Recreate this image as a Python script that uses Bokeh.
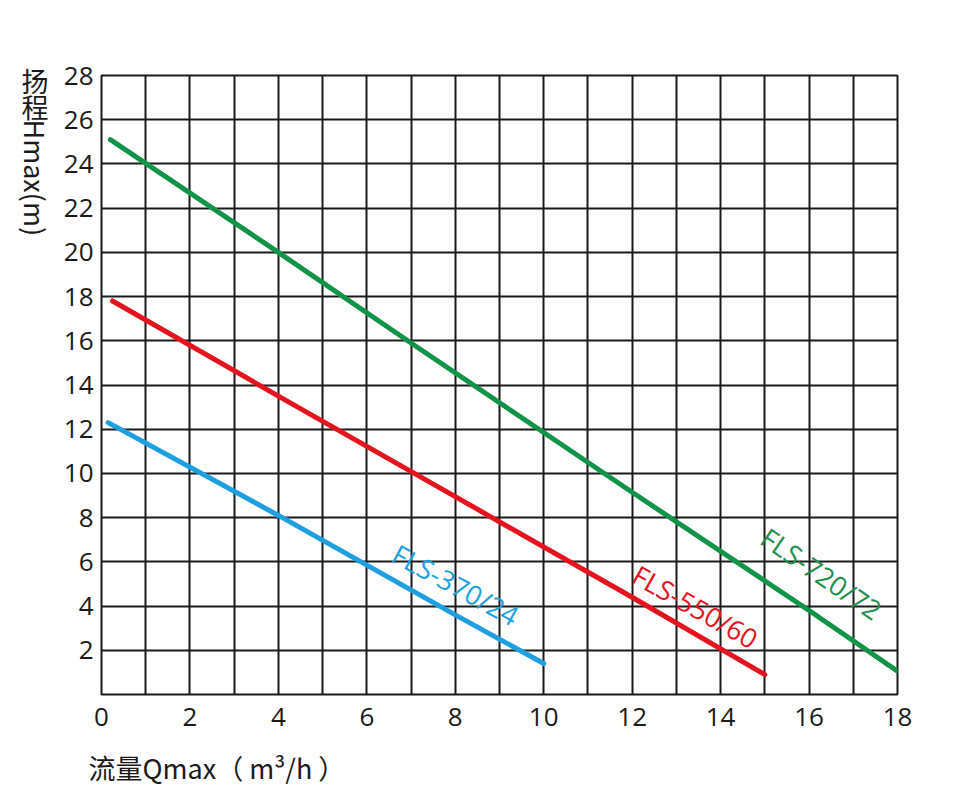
import math
from bokeh.plotting import figure
from bokeh.models import Range1d, FixedTicker, Label, Spacer
from bokeh.layouts import row, column
from bokeh.embed import file_html
from bokeh.resources import INLINE

# ---- data ----
x_ticks = [0, 2, 4, 6, 8, 10, 12, 14, 16, 18]
y_ticks = [2, 4, 6, 8, 10, 12, 14, 16, 18, 20, 22, 24, 26, 28]
x_grid = list(range(0, 19))
y_grid = list(range(0, 29, 2))

names = ["FLS-370/24", "FLS-550/60", "FLS-720/72"]
flow_370 = [0.15, 4, 6, 8, 10]
head_370 = [12.3, 8.1, 5.85, 3.6, 1.4]
flow_550 = [0.25, 4, 8, 12, 15]
head_550 = [17.8, 13.5, 8.95, 4.4, 0.9]
flow_720 = [0.2, 4, 7, 10, 12, 16, 18]
head_720 = [25.1, 20.0, 15.9, 11.85, 9.15, 3.8, 1.05]

x_title = "流量Qmax（ m³/h ）"
y_title_cjk = ["扬", "程"]
y_title_latin = "Hmax(m)"

# ---- styles ----
colors = ["#1e9fdf", "#e3141e", "#119447"]
text_colors = ["#1e9fdf", "#e3141e", "#1f8f4c"]
FONT = "Open Sans"
CJK = "Noto Sans CJK SC"
INK = "#1a1a1a"

def blank(w, h, top=0, bottom=0):
    f = figure(width=w, height=h, output_backend="svg",
               toolbar_location=None, title=None,
               x_range=Range1d(0, w), y_range=Range1d(0, h - top - bottom),
               min_border=0, min_border_top=top, min_border_bottom=bottom,
               x_axis_location=None, y_axis_location=None)
    f.outline_line_color = None
    f.grid.visible = False
    f.background_fill_color = "white"
    f.border_fill_color = "white"
    return f

# main chart
p = figure(width=870, height=687, output_backend="svg", toolbar_location=None,
           x_range=Range1d(0, 18), y_range=Range1d(0, 28),
           min_border_left=41, min_border_right=33, min_border_top=20,
           min_border_bottom=48)
p.background_fill_color = "white"
p.border_fill_color = "white"
p.outline_line_color = INK
p.outline_line_width = 2
p.outline_line_alpha = 1.0

p.xgrid.ticker = FixedTicker(ticks=x_grid)
p.ygrid.ticker = FixedTicker(ticks=y_grid)
for g in (p.xgrid, p.ygrid):
    g.grid_line_color = INK
    g.grid_line_width = 2
    g.grid_line_alpha = 1.0

p.xaxis.ticker = FixedTicker(ticks=x_ticks)
p.yaxis.ticker = FixedTicker(ticks=y_ticks)
for ax in (p.xaxis, p.yaxis):
    ax.axis_line_color = None
    ax.major_tick_line_color = None
    ax.minor_tick_line_color = None
    ax.major_tick_out = 0
    ax.major_tick_in = 0
    ax.minor_tick_out = 0
    ax.major_label_text_font = FONT
    ax.major_label_text_font_size = "26px"
    ax.major_label_text_color = INK
p.xaxis.major_label_standoff = 13
p.yaxis.major_label_standoff = 8

for fx, hy, c in zip([flow_370, flow_550, flow_720],
                     [head_370, head_550, head_720], colors):
    p.line(fx, hy, line_color=c, line_width=5, line_cap="round")

# curve labels (centre in data units, angle in degrees)
label_pos = [(8.01, 4.97, 28.5), (13.43, 3.98, 29.5), (16.28, 5.47, 34.5)]
for name, (lx, ly, ang), tc in zip(names, label_pos, text_colors):
    p.add_layout(Label(x=lx, y=ly, text=name, angle=-math.radians(ang),
                       text_align="center", text_baseline="middle",
                       text_font=FONT, text_font_size="27px",
                       text_color=tc))

# y title panel (vertical text: CJK upright, Latin turned clockwise)
yfig = blank(60, 742, top=20, bottom=48)
for i, ch in enumerate(y_title_cjk):
    yfig.add_layout(Label(x=34.5, y=614.5 - i * 26, text=ch, text_align="center",
                          text_baseline="middle", text_font=CJK,
                          text_font_size="27px", text_color=INK))
yfig.add_layout(Label(x=34.5, y=575, text=y_title_latin, angle=-math.pi / 2,
                      text_align="left", text_baseline="middle", text_font=CJK,
                      text_font_size="27px", text_color=INK))

# x title panel
xfig = blank(930, 48)
xfig.add_layout(Label(x=88, y=23, text=x_title, text_align="left",
                      text_baseline="middle", text_font=CJK,
                      text_font_size="27px", text_color=INK))

layout = column(row(yfig, column(Spacer(width=870, height=55), p)), xfig)
open("out.html", "w").write(file_html(layout, INLINE))
